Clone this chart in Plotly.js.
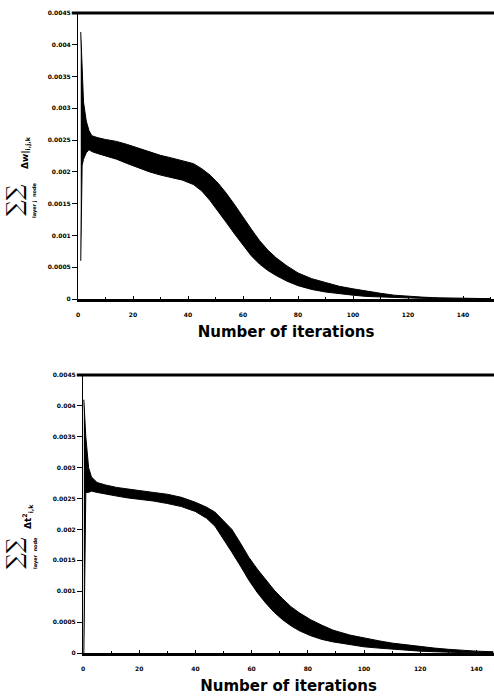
<!DOCTYPE html>
<html>
<head>
<meta charset="utf-8">
<script src="https://cdn.plot.ly/plotly-3.0.1.min.js"></script>
<style>
  html, body { margin: 0; padding: 0; background: #fff; }
  #chart { width: 494px; height: 700px; }
</style>
</head>
<body>
<div id="chart"></div>
<script>
// Weight-change criterion (upper panel): band of per-iteration spread
const wIter = [1, 1.5, 2, 3, 4, 5, 7, 10, 14, 18, 22, 26, 30, 34, 38, 42, 45, 48, 51, 54, 57, 60, 63, 66, 69, 72, 76, 80, 85, 90, 95, 100, 105, 110, 115, 120, 125, 130, 140, 150];
const wLow  = [0.0006, 0.0021, 0.0022, 0.0023, 0.00235, 0.00232, 0.00229, 0.00225, 0.0022, 0.00213, 0.00206, 0.002, 0.00195, 0.00191, 0.00187, 0.0018, 0.0017, 0.00155, 0.00138, 0.0012, 0.00102, 0.00085, 0.00068, 0.00055, 0.00045, 0.00037, 0.00028, 0.00021, 0.00015, 0.00011, 0.00008, 0.00006, 0.00004, 0.00003, 0.00002, 0.00001, 0.00001, 0.000005, 0, 0];
const wHigh = [0.0042, 0.0037, 0.0031, 0.0028, 0.00265, 0.00257, 0.00254, 0.00251, 0.00248, 0.00243, 0.00237, 0.00231, 0.00226, 0.00222, 0.00218, 0.00213, 0.00205, 0.00195, 0.00182, 0.00166, 0.00148, 0.00128, 0.0011, 0.00092, 0.00077, 0.00065, 0.00052, 0.00041, 0.00032, 0.00026, 0.0002, 0.00016, 0.00012, 0.00009, 0.00006, 0.00004, 0.00003, 0.00002, 0.00001, 0.000005];

// Threshold-change criterion (lower panel)
const tIter = [0.3, 1, 2, 3, 5, 8, 12, 16, 20, 25, 30, 35, 40, 44, 47, 50, 53, 56, 59, 62, 65, 68, 71, 74, 77, 81, 85, 89, 95, 100, 105, 110, 115, 120, 125, 130, 135, 140, 146];
const tLow  = [0.0, 0.0026, 0.0026, 0.00262, 0.0026, 0.00257, 0.00254, 0.00251, 0.00249, 0.00246, 0.00242, 0.00237, 0.00229, 0.00218, 0.00205, 0.00185, 0.00163, 0.00141, 0.00118, 0.00098, 0.00081, 0.00066, 0.00054, 0.00044, 0.00036, 0.00028, 0.00022, 0.00018, 0.00013, 0.0001, 0.00008, 0.00006, 0.00004, 0.00003, 0.00002, 0.00001, 0.00001, 0, 0];
const tHigh = [0.0041, 0.0035, 0.003, 0.00285, 0.00276, 0.00272, 0.00268, 0.00265, 0.00263, 0.0026, 0.00257, 0.00252, 0.00244, 0.00236, 0.00228, 0.00214, 0.002, 0.00178, 0.00155, 0.00136, 0.00118, 0.00102, 0.00088, 0.00075, 0.00065, 0.00054, 0.00045, 0.00037, 0.00029, 0.00024, 0.0002, 0.00016, 0.00013, 0.0001, 0.00008, 0.00006, 0.00004, 0.00003, 0.00002];

// Axis ticks
const yTickVals = [0, 0.0005, 0.001, 0.0015, 0.002, 0.0025, 0.003, 0.0035, 0.004, 0.0045];
const yTickText = ['0', '0.0005', '0.001', '0.0015', '0.002', '0.0025', '0.003', '0.0035', '0.004', '0.0045'];
const xTickVals = [0, 20, 40, 60, 80, 100, 120, 140];

const W = 494, H = 700;
const px = v => v / W;
const py = v => 1 - v / H;

function band(x, lo, hi, xa, ya) {
  return [
    { x: x, y: lo, xaxis: xa, yaxis: ya, type: 'scatter', mode: 'lines',
      line: { color: '#000', width: 1 }, hoverinfo: 'skip', showlegend: false },
    { x: x, y: hi, xaxis: xa, yaxis: ya, type: 'scatter', mode: 'lines',
      fill: 'tonexty', fillcolor: '#000',
      line: { color: '#000', width: 1 }, hoverinfo: 'skip', showlegend: false }
  ];
}

const tickFont = { family: 'DejaVu Sans', size: 6, color: '#000', weight: 'bold' };
const titleFont = { family: 'DejaVu Sans', size: 15, color: '#000', weight: 'bold' };

function xAxis(domain, maxX, anchor) {
  return {
    domain: domain, anchor: anchor, range: [0, maxX],
    tickvals: xTickVals, ticks: 'inside', ticklen: 3, tickwidth: 1, tickcolor: '#000',
    minor: { dtick: 10, tick0: 0, ticks: 'inside', ticklen: 2, tickcolor: '#000' },
    showline: true, linecolor: '#000', linewidth: 2.5,
    showgrid: false, zeroline: false, tickfont: tickFont, ticklabelstandoff: 8,
    title: { text: 'Number of iterations', font: titleFont, standoff: 10 }
  };
}
function yAxis(domain, anchor) {
  return {
    domain: domain, anchor: anchor, range: [0, 0.0045],
    tickvals: yTickVals, ticktext: yTickText, ticks: 'outside', ticklen: 5, tickwidth: 1, tickcolor: '#000',
    showline: true, linecolor: '#000', linewidth: 1,
    showgrid: false, zeroline: false, tickfont: tickFont
  };
}

const data = [].concat(
  band(wIter, wLow, wHigh, 'x', 'y'),
  band(tIter, tLow, tHigh, 'x2', 'y2')
);

function label(x, y, text, font) {
  return { xref: 'paper', yref: 'paper', x: px(x), y: py(y), xanchor: 'center', yanchor: 'middle',
           text: text, textangle: -90, showarrow: false, font: font };
}
const sumFont = { family: 'DejaVu Serif', size: 22, color: '#000' };
const subFont = { family: 'DejaVu Sans', size: 5, color: '#000', weight: 'bold' };

const layout = {
  width: W, height: H,
  margin: { l: 0, r: 0, t: 0, b: 0 },
  paper_bgcolor: '#fff', plot_bgcolor: '#fff',
  showlegend: false,
  xaxis:  xAxis([px(78), 1], (W - 78) / 2.75, 'y'),
  yaxis:  yAxis([py(299), py(13)], 'x'),
  xaxis2: xAxis([px(83), 1], (W - 83) / 2.81, 'y2'),
  yaxis2: yAxis([py(653), py(375)], 'x2'),
  shapes: [
    { type: 'line', xref: 'x domain', yref: 'y domain', x0: -0.015, x1: 1, y0: 1, y1: 1,
      line: { color: '#000', width: 3 } },
    { type: 'line', xref: 'x2 domain', yref: 'y2 domain', x0: -0.015, x1: 1, y0: 1, y1: 1,
      line: { color: '#000', width: 3 } }
  ],
  annotations: [
    label(14, 200, '∑∑', sumFont),
    label(26, 153, 'Δw|<sub>i,j,k</sub>', { family: 'DejaVu Sans', size: 9, color: '#000', weight: 'bold' }),
    label(34, 200, 'layer j  node', subFont),
    label(14, 553, '∑∑', sumFont),
    label(27, 517, 'Δt<sup>2</sup><sub>i,k</sub>', { family: 'DejaVu Sans', size: 9, color: '#000', weight: 'bold' }),
    label(35, 553, 'layer  node', subFont)
  ]
};

Plotly.newPlot('chart', data, layout, { staticPlot: true, displayModeBar: false });
</script>
</body>
</html>
